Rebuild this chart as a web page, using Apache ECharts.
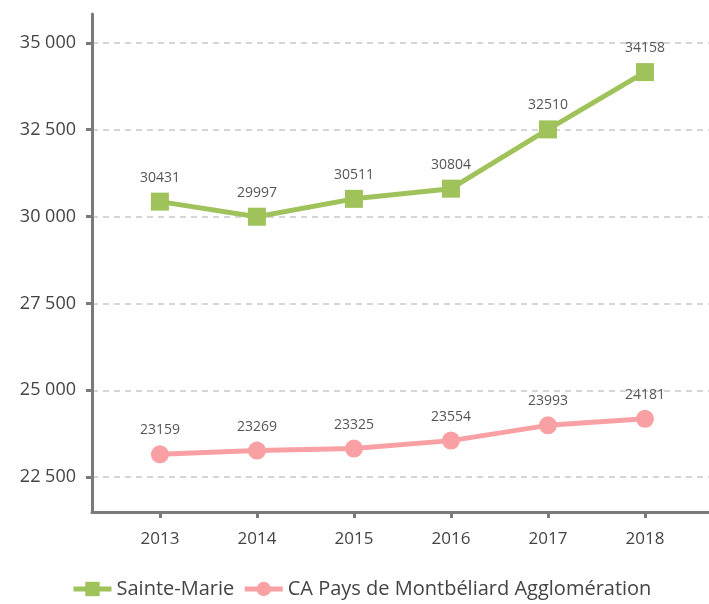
<!DOCTYPE html>
<html>
<head>
<meta charset="utf-8">
<script src="https://cdn.jsdelivr.net/npm/echarts@6/dist/echarts.min.js"></script>
<style>
  html, body { margin: 0; padding: 0; background: #fff; }
  #chart { width: 709px; height: 604px; }
</style>
</head>
<body>
<div id="chart"></div>
<script>
const years = [2013, 2014, 2015, 2016, 2017, 2018];
const sainteMarie = [30431, 29997, 30511, 30804, 32510, 34158];
const montbeliard = [23159, 23269, 23325, 23554, 23993, 24181];
const yTicks = [22500, 25000, 27500, 30000, 32500, 35000];

const seriesNames = ['Sainte-Marie', 'CA Pays de Montbéliard Agglomération'];
const font = 'Open Sans';

function pairs(values) {
  return years.map((y, i) => [y, values[i]]);
}

function fmtThousands(v) {
  return String(v).replace(/\B(?=(\d{3})+(?!\d))/g, ' ');
}

const labelStyle = {
  show: true,
  position: 'top',
  distance: 8,
  fontFamily: font,
  fontSize: 14,
  color: '#555',
  formatter: p => p.value[1]
};

const option = {
  textStyle: { fontFamily: font },
  animation: false,
  grid: {
    left: 92,
    right: 0,
    top: 14,
    bottom: 92,
    containLabel: false
  },
  legend: {
    bottom: 0,
    left: 66,
    itemWidth: 38,
    itemHeight: 18,
    itemGap: 8,
    lineStyle: { width: 5 },
    textStyle: { fontFamily: font, fontSize: 20, color: '#444' },
    data: seriesNames
  },
  xAxis: {
    type: 'value',
    min: 2012.3,
    max: 2018.66,
    axisLine: { show: true, lineStyle: { color: '#7a7a7a', width: 3 } },
    axisTick: { show: true, length: 6, lineStyle: { color: '#7a7a7a', width: 3 }, customValues: years },
    axisLabel: { fontFamily: font, fontSize: 17, color: '#444', margin: 19, customValues: years, formatter: v => String(v) },
    splitLine: { show: false }
  },
  yAxis: {
    type: 'value',
    min: 21500,
    max: 35830,
    axisLine: { show: true, lineStyle: { color: '#7a7a7a', width: 3 } },
    axisTick: { show: true, length: 6, lineStyle: { color: '#7a7a7a', width: 3 }, customValues: yTicks },
    axisLabel: { fontFamily: font, fontSize: 18, color: '#444', margin: 16, customValues: yTicks, formatter: fmtThousands },
    splitLine: { show: true, lineStyle: { color: '#c8c8c8', type: [6, 5], width: 1.5 } }
  },
  series: [{
    name: seriesNames[0],
    type: 'line',
    data: pairs(sainteMarie),
    symbol: 'rect',
    symbolSize: 18,
    color: '#9fc25b',
    lineStyle: { width: 5 },
    label: labelStyle
  }, {
    name: seriesNames[1],
    type: 'line',
    data: pairs(montbeliard),
    symbol: 'circle',
    symbolSize: 18,
    color: '#f9a0a5',
    lineStyle: { width: 5 },
    label: labelStyle
  }]
};

const chart = echarts.init(document.getElementById('chart'));
chart.setOption(option);
</script>
</body>
</html>
